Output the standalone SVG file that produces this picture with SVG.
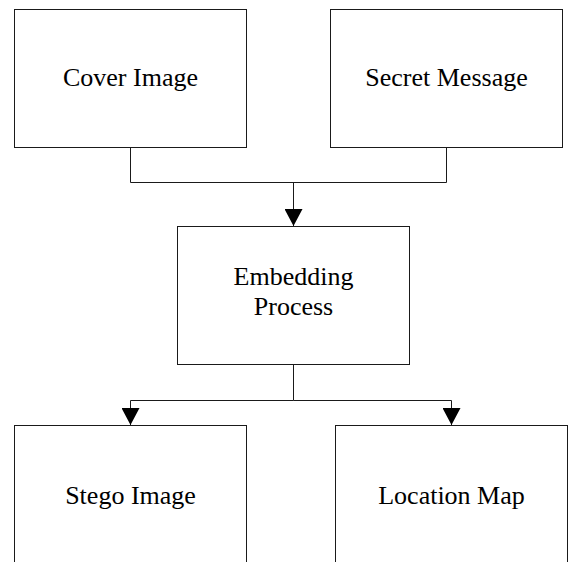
<svg xmlns="http://www.w3.org/2000/svg" width="569" height="562" viewBox="0 0 569 562">
<style>
.box{fill:#fff;stroke:#1a1a1a;stroke-width:1}
.lbl{font-family:"Liberation Serif","Times New Roman",serif;font-size:26px;fill:#000;text-anchor:middle}
.conn{fill:none;stroke:#1a1a1a;stroke-width:1}
</style>
<defs>
<marker id="arr" markerUnits="userSpaceOnUse" markerWidth="18" markerHeight="18" viewBox="0 0 17 18" refX="17" refY="9" orient="auto">
<path d="M0,0 L17,9 L0,18 z" fill="#000"/>
</marker>
</defs>
<rect width="569" height="562" fill="#fff"/>
<g id="connectors">
<path class="conn" d="M130.5,148 V182.5 H446.5 V148"/>
<path class="conn" d="M293.5,182.5 V226" marker-end="url(#arr)"/>
<path class="conn" d="M293.5,365 V400.5"/>
<path class="conn" d="M293.5,400.5 H130.5 V425" marker-end="url(#arr)"/>
<path class="conn" d="M293.5,400.5 H451.5 V425" marker-end="url(#arr)"/>
</g>
<g id="cover">
<rect class="box" x="14.5" y="9.5" width="232" height="138"/>
<text class="lbl" x="130.5" y="86">Cover Image</text>
</g>
<g id="secret">
<rect class="box" x="330.5" y="9.5" width="232" height="138"/>
<text class="lbl" x="446.5" y="86">Secret Message</text>
</g>
<g id="embedding">
<rect class="box" x="177.5" y="226.5" width="232" height="138"/>
<text class="lbl" x="293.5" y="285">Embedding</text>
<text class="lbl" x="293.5" y="315">Process</text>
</g>
<g id="stego">
<rect class="box" x="14.5" y="425.5" width="232" height="150"/>
<text class="lbl" x="130.5" y="504">Stego Image</text>
</g>
<g id="location">
<rect class="box" x="335.5" y="425.5" width="232" height="150"/>
<text class="lbl" x="451.5" y="504">Location Map</text>
</g>
</svg>
